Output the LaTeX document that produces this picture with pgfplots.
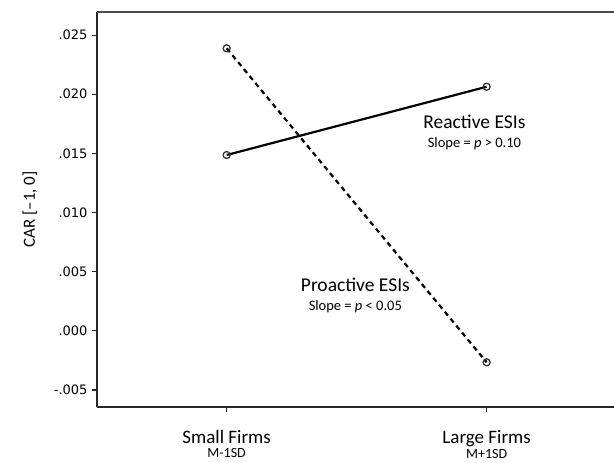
\documentclass[border=0pt]{standalone}
\usepackage{pgfplots}
\pgfplotsset{compat=1.18}
\usepackage{fontspec}
\setmainfont{Carlito}
\newfontfamily\dv{DejaVu Sans}
\begin{document}
\begin{tikzpicture}
\begin{axis}[
  at={(97pt,56pt)}, anchor=south west,
  scale only axis,
  width=517pt, height=395pt,
  xmin=-0.4988, xmax=1.49,
  ymin=-0.00644, ymax=0.02695,
  axis lines=left,
  axis line style={-, line width=1.1pt, black!85},
  tick align=outside,
  major tick length=5pt,
  tick style={line width=1.1pt, black!85},
  xtick={0,1},
  xticklabels={{\fontsize{19}{19}\selectfont Small Firms\\[2pt]\fontsize{14}{14}\selectfont M-1SD},
               {\fontsize{19}{19}\selectfont Large Firms\\[2pt]\fontsize{14}{14}\selectfont M+1SD}},
  xticklabel style={align=center, yshift=-15pt},
  ytick={-0.005,0,0.005,0.01,0.015,0.02,0.025},
  yticklabels={-.005,.000,.005,.010,.015,.020,.025},
  yticklabel style={font=\dv\fontsize{13}{15}\selectfont, xshift=-1pt},
  every axis y label/.style={at={(axis description cs:-0.1296,0.5)}, rotate=90, anchor=center},
  ylabel={\fontsize{17}{18}\selectfont CAR [–1, 0]},
  clip=false,
]
\addplot[black, line width=2.2pt, mark=o, mark size=3.5pt, mark options={solid, line width=1.3pt, fill=white, draw=black!80}]
  coordinates {(0,0.01486) (1,0.02063)};
\addplot[black, line width=2.2pt, dash pattern=on 5pt off 4pt, mark=o, mark size=3.5pt, mark options={solid, line width=1.3pt, fill=white, draw=black!80}]
  coordinates {(0,0.02388) (1,-0.00266)};
\draw[line width=1.1pt, black!70] (rel axis cs:0,1) -- (rel axis cs:1,1);
\node[anchor=base, font=\fontsize{19.5}{20}\selectfont] at (axis cs:0.953,0.01706) {Reactive ESIs};
\node[anchor=base, font=\fontsize{14.5}{15}\selectfont] at (axis cs:0.953,0.01548) {Slope = \textit{p} > 0.10};
\node[anchor=base, font=\fontsize{19.5}{20}\selectfont] at (axis cs:0.495,0.00331) {Proactive ESIs};
\node[anchor=base, font=\fontsize{14.5}{15}\selectfont] at (axis cs:0.495,0.0017) {Slope = \textit{p} < 0.05};
\end{axis}
\pgfresetboundingbox
\path (0,0) rectangle (614pt,463pt);
\end{tikzpicture}
\end{document}
